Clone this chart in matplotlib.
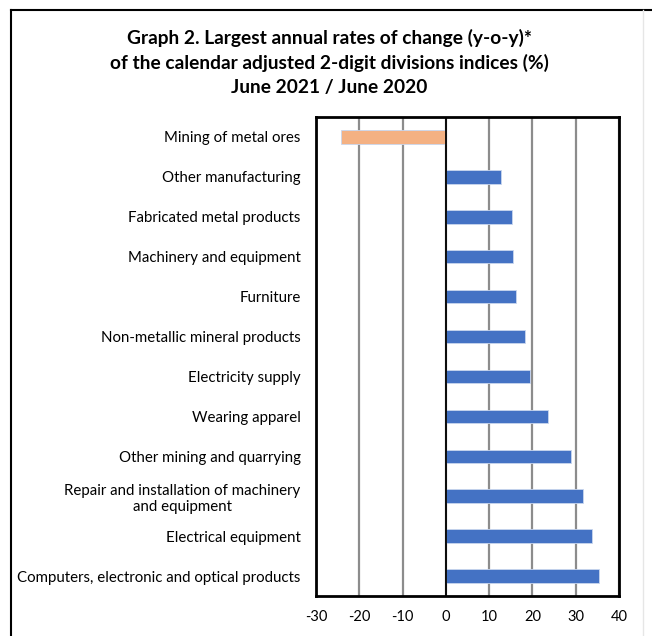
import matplotlib
matplotlib.use("Agg")
import matplotlib.pyplot as plt
import numpy as np
from matplotlib.lines import Line2D

categories = [
    "Mining of metal ores",
    "Other manufacturing",
    "Fabricated metal products",
    "Machinery and equipment",
    "Furniture",
    "Non-metallic mineral products",
    "Electricity supply",
    "Wearing apparel",
    "Other mining and quarrying",
    "Repair and installation of machinery\nand equipment",
    "Electrical equipment",
    "Computers, electronic and optical products",
]
values = [-24.2, 12.8, 15.2, 15.5, 16.2, 18.3, 19.4, 23.5, 29.0, 31.7, 33.7, 35.3]
xticks = [-30, -20, -10, 0, 10, 20, 30, 40]

plt.rcParams['font.family'] = ['Lato', 'DejaVu Sans']

fig = plt.figure(figsize=(6.52, 6.36), dpi=100)
ax = fig.add_axes([316/652, 1-596/636, (619-316)/652, (596-117)/636])

y = np.arange(len(categories))
colors = ['#F4B183' if v < 0 else '#4472C4' for v in values]
ax.barh(y, values, height=0.34, color=colors, edgecolor='#C9D6EE', linewidth=0.6, zorder=3)
ax.set_ylim(len(categories) - 0.5, -0.5)
ax.set_xlim(-30, 40)
ax.set_xticks(xticks)
ax.set_xticklabels([str(t) for t in xticks], fontsize=10.5)
ax.set_yticks(y)
ax.set_yticklabels(categories, fontsize=10.8, multialignment='center')
ax.tick_params(axis='both', length=0)
ax.tick_params(axis='y', pad=11)
ax.tick_params(axis='x', pad=10)
ax.grid(axis='x', color='#8C8C8C', linewidth=1.6, zorder=0)
ax.axvline(0, color='black', linewidth=1.3, zorder=4)
for s in ax.spines.values():
    s.set_linewidth(2)
    s.set_color('black')

fig.text(0.505, 1-38/636, "Graph 2. Largest annual rates of change (y-o-y)*", ha='center', va='center', fontsize=13.8, fontweight='bold')
fig.text(0.505, 1-63/636, "of the calendar adjusted 2-digit divisions indices (%)", ha='center', va='center', fontsize=13.8, fontweight='bold')
fig.text(0.505, 1-88/636, "June 2021 / June 2020", ha='center', va='center', fontsize=13.8, fontweight='bold')

# outer frame (top and left visible)
fig.add_artist(Line2D([11/652, 11/652], [0, 1-10/636], transform=fig.transFigure, color='black', linewidth=1.5))
fig.add_artist(Line2D([11/652, 1], [1-10/636, 1-10/636], transform=fig.transFigure, color='black', linewidth=1.5))
fig.add_artist(Line2D([643/652, 643/652], [0, 1-10/636], transform=fig.transFigure, color='#E6E6E6', linewidth=1))

fig.savefig("out.png", dpi=100)
